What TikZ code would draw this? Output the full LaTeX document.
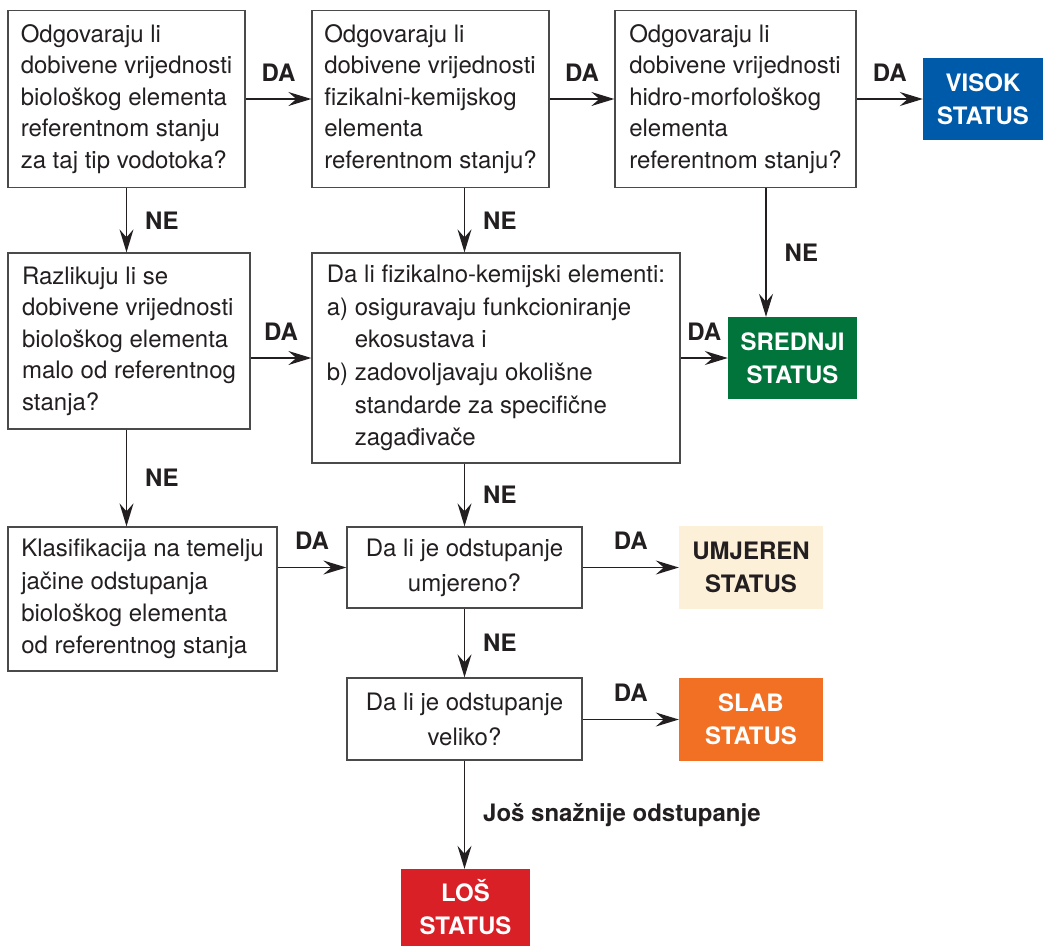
\documentclass[tikz,border=0pt]{standalone}
\usepackage{fontspec}
\setmainfont{TeX Gyre Heros}
\usetikzlibrary{arrows.meta}
\definecolor{tekst}{HTML}{231F20}
\definecolor{okvir}{HTML}{4A4A4A}
\definecolor{visokboja}{RGB}{0,90,170}
\definecolor{srednjiboja}{RGB}{0,116,58}
\definecolor{umjerenboja}{RGB}{253,240,216}
\definecolor{slabboja}{RGB}{242,112,36}
\definecolor{losboja}{RGB}{218,32,39}
\tikzset{
	pitanje/.style={draw=okvir, line width=1.3pt, align=left, inner sep=0pt, text=tekst, font=\fontsize{24}{31.5}\selectfont},
	status/.style={inner sep=0pt, align=center, text=white, font=\fontsize{24}{33}\selectfont\bfseries},
	veza/.style={line width=1.4pt, tekst, -{Stealth[length=23pt,width=14pt,inset=8pt]}},
	oznaka/.style={inner sep=3pt, text=tekst, font=\fontsize{24}{28}\selectfont\bfseries}
}
\begin{document}
\begin{tikzpicture}[x=1pt, y=-1pt]
	\useasboundingbox (0,0) rectangle (1043,946);
	
	\node [pitanje, minimum width=237pt, minimum height=177pt] (q1) at (126.5, 99) {Odgovaraju li\\dobivene vrijednosti\\biološkog elementa\\referentnom stanju\\za taj tip vodotoka?}; 
	\node [pitanje, minimum width=237pt, minimum height=177pt] (q2) at (430.5, 99) {Odgovaraju li\\dobivene vrijednosti\\fizikalni-kemijskog\\elementa\\referentnom stanju?}; 
	\node [pitanje, minimum width=241pt, minimum height=177pt] (q3) at (735.5, 99) {Odgovaraju li\\dobivene vrijednosti\\hidro-morfološkog\\elementa\\referentnom stanju?}; 
	\node [pitanje, minimum width=242pt, minimum height=176pt] (q4) at (129, 341) {Razlikuju li se\\dobivene vrijednosti\\biološkog elementa\\malo od referentnog\\stanja?}; 
	\node [pitanje, minimum width=368pt, minimum height=210pt, font=\fontsize{24}{32.6}\selectfont] (q5) at (496, 358) {Da li fizikalno-kemijski elementi:\\a) osiguravaju funkcioniranje\\\hphantom{a)\ }ekosustava i\\b) zadovoljavaju okolišne\\\hphantom{b)\ }standarde za specifične\\\hphantom{b)\ }zagađivače}; 
	\node [pitanje, minimum width=269pt, minimum height=144pt, font=\fontsize{24}{32.3}\selectfont] (q6) at (142.5, 599) {Klasifikacija na temelju\\jačine odstupanja\\biološkog elementa\\od referentnog stanja}; 
	\node [pitanje, align=center, minimum width=235pt, minimum height=81pt, font=\fontsize{24}{35}\selectfont] (q7) at (464.5, 567.5) {Da li je odstupanje\\umjereno?}; 
	\node [pitanje, align=center, minimum width=235pt, minimum height=82pt, font=\fontsize{24}{35}\selectfont] (q8) at (464.5, 719) {Da li je odstupanje\\veliko?}; 
	
	\node [status, fill=visokboja, minimum width=120pt, minimum height=82pt] (visok) at (983, 99) {VISOK\\STATUS}; 
	\node [status, fill=srednjiboja, minimum width=129pt, minimum height=82pt] (srednji) at (792.5, 358) {SREDNJI\\STATUS}; 
	\node [status, fill=umjerenboja, text=tekst, minimum width=144pt, minimum height=83pt] (umjeren) at (751, 567.5) {UMJEREN\\STATUS}; 
	\node [status, fill=slabboja, minimum width=144pt, minimum height=83pt] (slab) at (751, 719.5) {SLAB\\STATUS}; 
	\node [status, fill=losboja, minimum width=129pt, minimum height=77pt] (los) at (465.5, 907.5) {LOŠ\\STATUS}; 
	
	\foreach \a/\b in {q1/q2, q2/q3, q3/visok, q4/q5, q5/srednji, q7/umjeren, q8/slab}{
		\draw [veza] (\a.east |- \b.west) -- node [oznaka, above=14pt] {DA} (\b.west); 
	}
	\draw [veza] (q6.east |- q7.west) -- node [oznaka, above=14pt] {DA} (q7.west); 
	
	\draw [veza] (q1.south) -- node [oznaka, right=15pt] {NE} (q1.south |- q4.north); 
	\draw [veza] ([xshift=34pt] q2.south) -- node [oznaka, right=15pt] {NE} ([xshift=34pt] q2.south |- q5.north); 
	\draw [veza] ([xshift=30.5pt] q3.south) -- node [oznaka, right=15pt] {NE} ([xshift=30.5pt] q3.south |- srednji.north); 
	\draw [veza] (q4.south -| q1.south) -- node [oznaka, right=15pt] {NE} (q1.south |- q6.north); 
	\draw [veza] (q5.south -| q7.north) -- node [oznaka, right=15pt] {NE} (q7.north); 
	\draw [veza] (q7.south) -- node [oznaka, right=15pt] {NE} (q8.north); 
	\draw [veza] (q8.south) -- node [oznaka, right=15pt] {Još snažnije odstupanje} (q8.south |- los.north); 
	
\end{tikzpicture}
\end{document}
